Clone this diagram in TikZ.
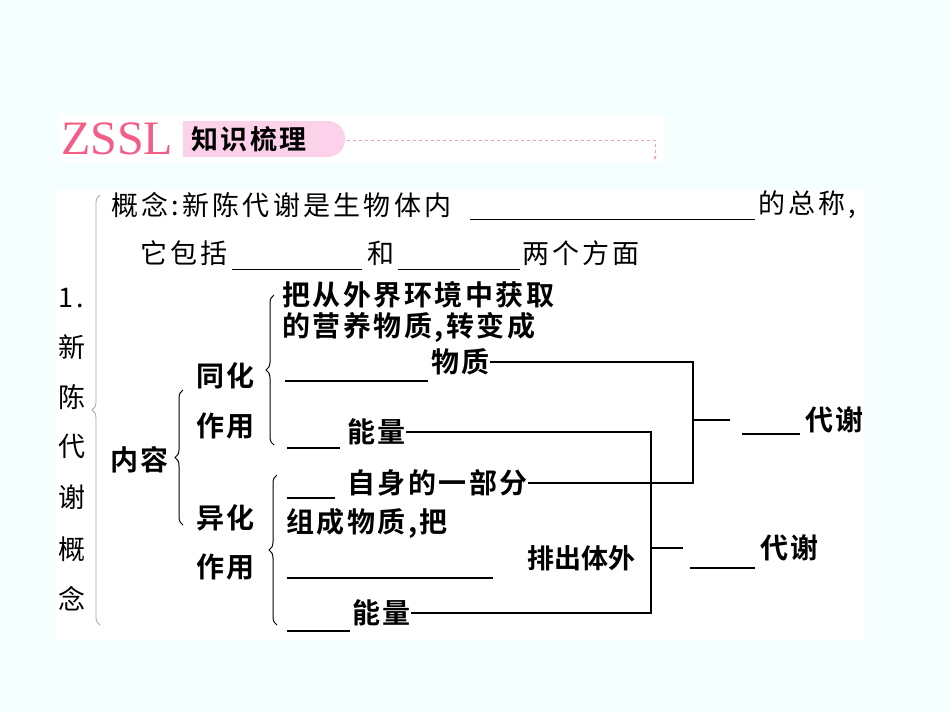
\documentclass[tikz,border=0pt]{standalone}
\usepackage{fontspec}
\setmainfont{Noto Sans CJK SC}
\newfontfamily\cjkr[LetterSpace=12]{Noto Sans CJK SC}
\newfontfamily\cjkb[LetterSpace=9]{Noto Sans CJK SC Bold}
\newfontfamily\cjkbn{Noto Sans CJK SC Bold}
\newfontfamily\serifz{Liberation Serif}
\usetikzlibrary{decorations.pathreplacing,arrows.meta}
\begin{document}
\begin{tikzpicture}[x=1pt,y=-1pt,
  t/.style={anchor=west,inner sep=0pt,font=\cjkr\fontsize{27}{27}\selectfont},
  tb/.style={anchor=west,inner sep=0pt,font=\cjkb\fontsize{28}{28}\selectfont},
  blank/.style={line width=1pt},
  conn/.style={line width=2pt},
  br/.style={decorate,decoration={brace,amplitude=8pt},line width=1pt}]
\fill[blue!3!cyan!4!white] (0,0) rectangle (950,713);
\useasboundingbox (0,0) rectangle (950,713);
% banner
\fill[white] (60,115) rectangle (665,162);
\node[anchor=west,inner sep=0pt,text=magenta!55!red!65!white,font=\serifz\fontsize{48}{48}\selectfont] (zssl) at (61,139) {ZSSL};
\fill[magenta!18!white] (183,121) -- (327,121) .. controls (351,121) and (351,157) .. (327,157) -- (183,157) -- cycle;
\node[anchor=west,inner sep=0pt,font=\cjkb\fontsize{27}{27}\selectfont] (zs) at (191,139) {知识梳理};
\coordinate (d1) at (347,140); \coordinate (d2) at (655,140); \coordinate (d3) at (655,160);
\draw[magenta!40!white,dashed,-{Stealth[length=4pt]}] (d1) -- (d2) -- (d3);
% panel
\fill[white] (55,190) rectangle (865,640);
\node[t] (c1) at (111,205) {概念:新陈代谢是生物体内};
\draw[blank] (470,219) -- (755,219);
\node[t] (c2) at (758,205) {的总称,};
\node[t] (c3) at (140,253) {它包括};
\draw[blank] (232,269) -- (362,269);
\node[t] (c4) at (367,253) {和};
\draw[blank] (398,269) -- (520,269);
\node[t] (c5) at (522,253) {两个方面};
% left column
\node[t] (n1) at (58,298) {1.};
\foreach \ch/\y in {新/347,陈/397,代/446,谢/497,概/549,念/599}
  \node[t] at (58,\y) {\ch};
\draw[br,gray!70,line width=0.8pt] (100,625) -- (100,195);
\node[tb] (nr) at (110,460) {内容};
\draw[br] (183,525) -- (183,390);
\node[tb] (th) at (196,376) {同化};
\node[tb] at (196,426) {作用};
\node[tb] (yh) at (196,518) {异化};
\node[tb] at (196,567) {作用};
\draw[br] (274,445) -- (274,295);
\draw[br] (277,625) -- (277,475);
% right texts
\node[tb] (a1) at (282,295) {把从外界环境中获取};
\node[tb] (a2) at (282,327) {的营养物质,转变成};
\draw[conn] (285,381) -- (428,381);
\node[tb] (wz) at (431,362) {物质};
\node[tb] (nl1) at (347,432) {能量};
\draw[conn] (287,448) -- (340,448);
\node[tb] (zs1) at (347,483) {自身的一部分};
\draw[conn] (287,498) -- (335,498);
\node[tb] (zc) at (286,523) {组成物质,把};
\draw[conn] (287,578) -- (493,578);
\node[anchor=west,inner sep=0pt,font=\cjkbn\fontsize{27}{27}\selectfont] (pc) at (527,558) {排出体外};
\node[tb] (nl2) at (352,613) {能量};
\draw[conn] (287,631) -- (350,631);
% connectors
\coordinate (j1) at (693,420);
\coordinate (j2) at (651,548);
\draw[conn] (wz.east) -| (j1) |- (zs1.east);
\draw[conn] (nl1.east) -| (j2) |- (nl2.east);
\node[tb] (dx1) at (805,420) {代谢};
\node[tb] (dx2) at (760,548) {代谢};
\draw[conn] (j1) -- (730,420);
\draw[conn] (742,434) -- (800,434);
\draw[conn] (j2) -- (683,548);
\draw[conn] (690,568) -- (755,568);
\end{tikzpicture}
\end{document}
